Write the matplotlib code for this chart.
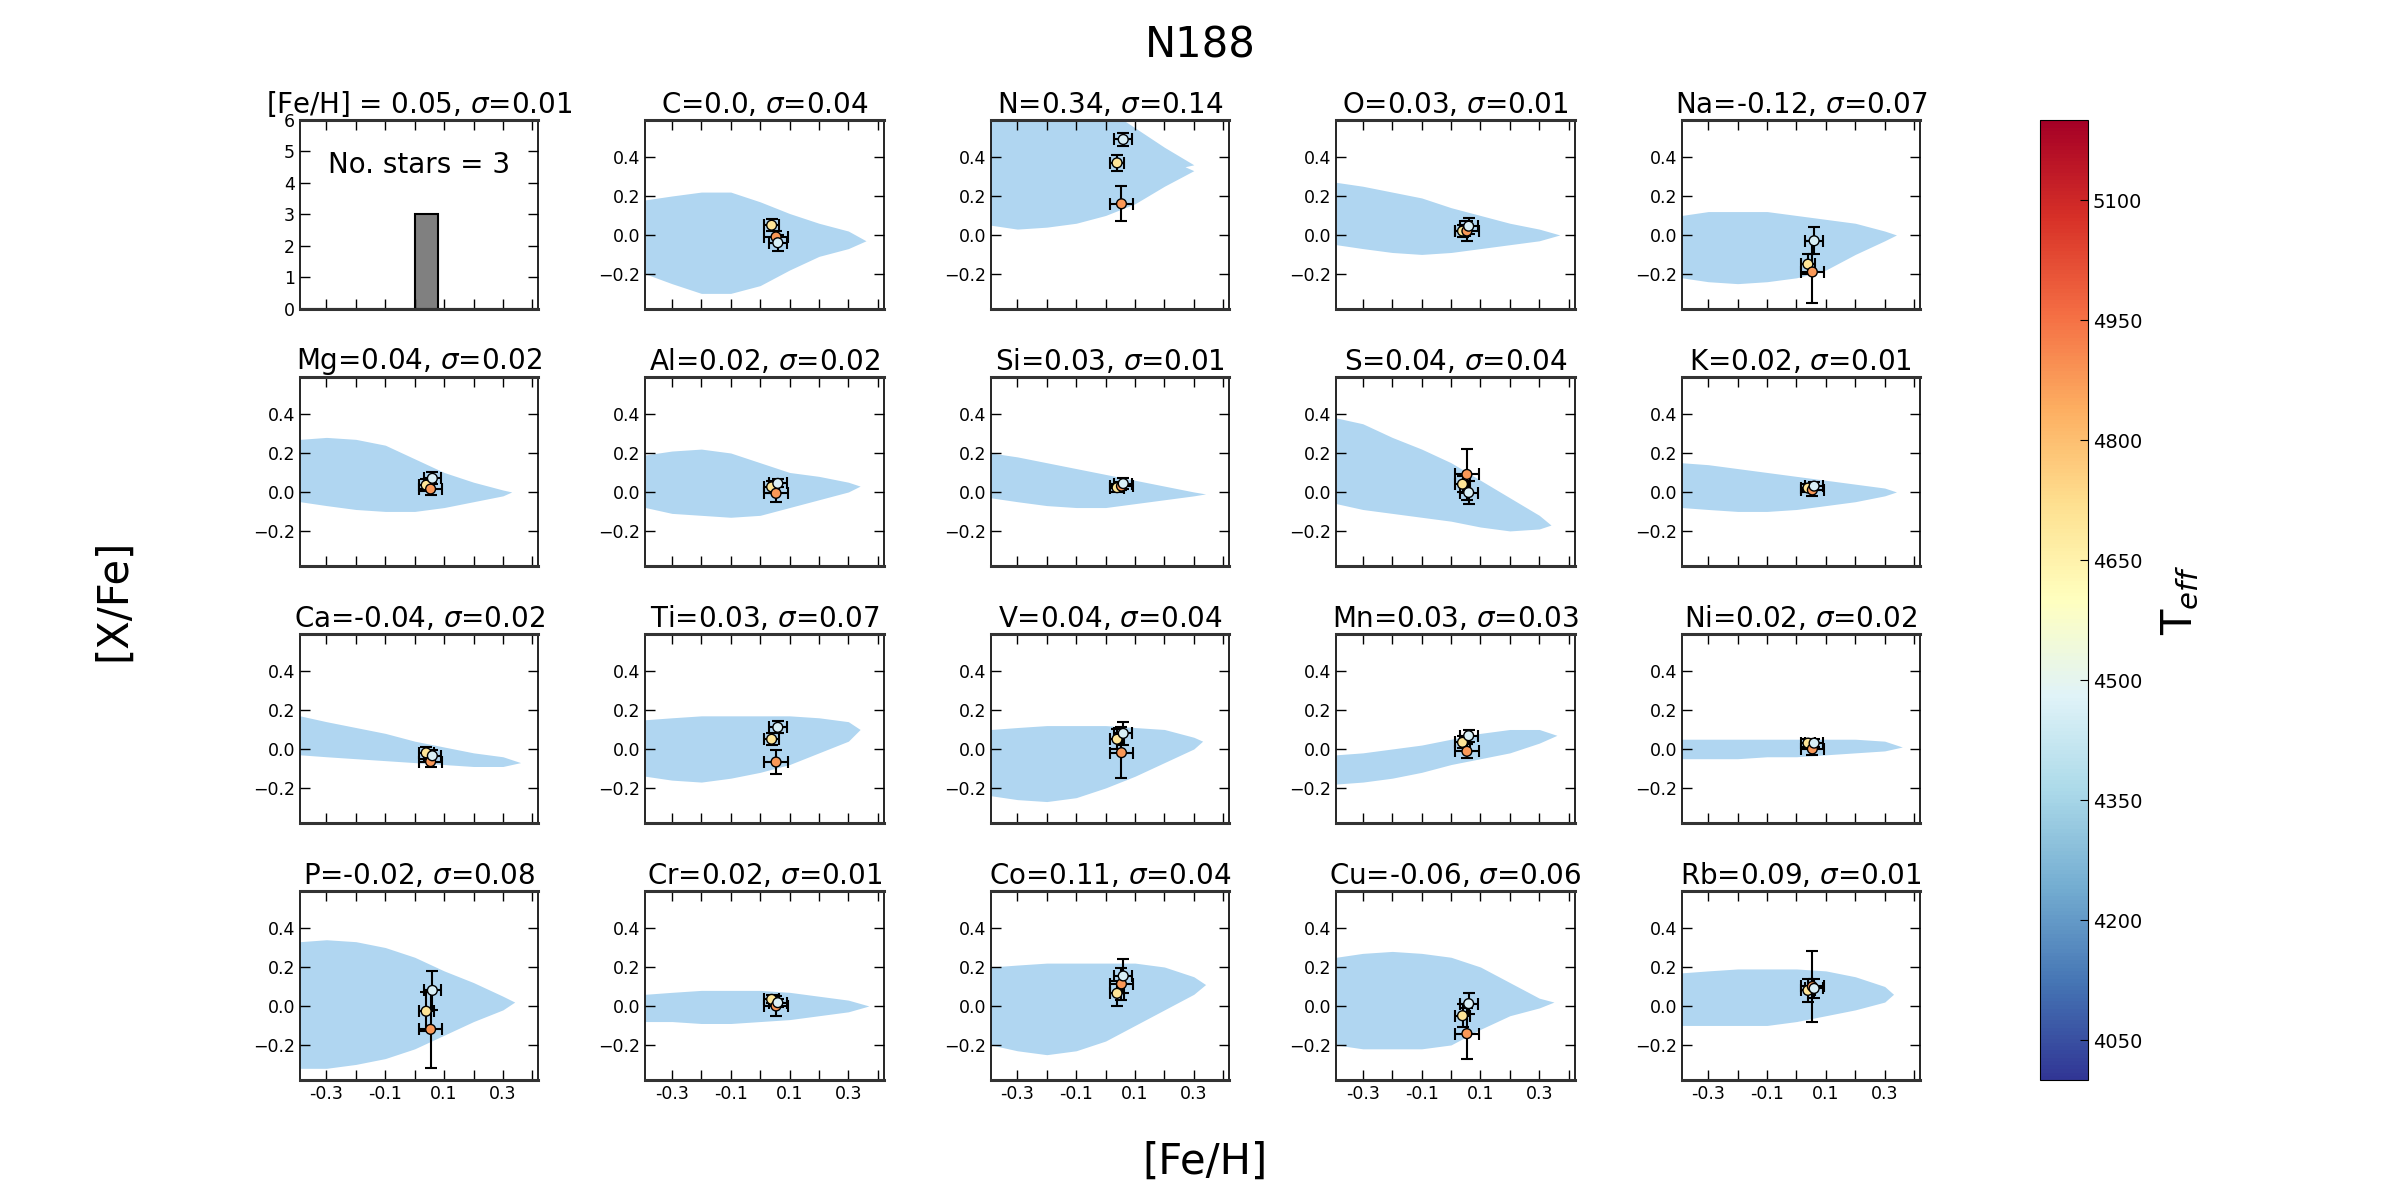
import matplotlib
matplotlib.use('Agg')
import matplotlib.pyplot as plt
import numpy as np

# cluster N188, three member stars (yellow, orange, pale blue in the plot)
feh_stars = [0.039, 0.054, 0.060]
feh_err = [0.025, 0.04, 0.03]
teff_stars = [4700, 4880, 4460]
feh_mean, feh_sig = 0.05, 0.01

elements = ['C', 'N', 'O', 'Na', 'Mg', 'Al', 'Si', 'S', 'K', 'Ca',
            'Ti', 'V', 'Mn', 'Ni', 'P', 'Cr', 'Co', 'Cu', 'Rb']
mean_vals = [0.0, 0.34, 0.03, -0.12, 0.04, 0.02, 0.03, 0.04, 0.02, -0.04,
             0.03, 0.04, 0.03, 0.02, -0.02, 0.02, 0.11, -0.06, 0.09]
sig_vals = [0.04, 0.14, 0.01, 0.07, 0.02, 0.02, 0.01, 0.04, 0.01, 0.02,
            0.07, 0.04, 0.03, 0.02, 0.08, 0.01, 0.04, 0.06, 0.01]

# [X/Fe] of the three stars and their errors
star_y = {
    'C':  [0.05, -0.01, -0.04],
    'N':  [0.37, 0.16, 0.49],
    'O':  [0.02, 0.02, 0.045],
    'Na': [-0.15, -0.19, -0.03],
    'Mg': [0.035, 0.015, 0.07],
    'Al': [0.026, -0.007, 0.044],
    'Si': [0.022, 0.03, 0.043],
    'S':  [0.04, 0.09, -0.003],
    'K':  [0.02, 0.01, 0.03],
    'Ca': [-0.02, -0.065, -0.035],
    'Ti': [0.05, -0.067, 0.111],
    'V':  [0.05, -0.019, 0.08],
    'Mn': [0.034, -0.012, 0.068],
    'Ni': [0.03, 0.0, 0.03],
    'P':  [-0.027, -0.12, 0.08],
    'Cr': [0.034, 0.0, 0.017],
    'Co': [0.065, 0.113, 0.154],
    'Cu': [-0.05, -0.142, 0.012],
    'Rb': [0.08, 0.1, 0.09],
}
star_yerr = {
    'C':  [0.03, 0.03, 0.04],
    'N':  [0.04, 0.09, 0.035],
    'O':  [0.03, 0.05, 0.04],
    'Na': [0.05, 0.16, 0.07],
    'Mg': [0.03, 0.03, 0.03],
    'Al': [0.03, 0.045, 0.02],
    'Si': [0.02, 0.02, 0.03],
    'S':  [0.04, 0.13, 0.06],
    'K':  [0.02, 0.03, 0.02],
    'Ca': [0.03, 0.03, 0.03],
    'Ti': [0.03, 0.06, 0.03],
    'V':  [0.05, 0.13, 0.06],
    'Mn': [0.03, 0.035, 0.03],
    'Ni': [0.02, 0.03, 0.02],
    'P':  [0.1, 0.2, 0.1],
    'Cr': [0.02, 0.05, 0.02],
    'Co': [0.065, 0.08, 0.085],
    'Cu': [0.06, 0.13, 0.055],
    'Rb': [0.06, 0.18, 0.05],
}

# field star cloud, read as an envelope (upper / lower edge) at these [Fe/H]
cloud_x = [-0.39, -0.3, -0.2, -0.1, 0.0, 0.1, 0.2, 0.3]
cloud_hi = {
    'C':  [0.18, 0.2, 0.22, 0.22, 0.17, 0.11, 0.06, 0.02],
    'N':  [0.65, 0.65, 0.65, 0.65, 0.65, 0.55, 0.45, 0.36],
    'O':  [0.27, 0.25, 0.22, 0.19, 0.14, 0.1, 0.06, 0.03],
    'Na': [0.1, 0.12, 0.12, 0.12, 0.1, 0.08, 0.06, 0.02],
    'Mg': [0.27, 0.28, 0.27, 0.24, 0.17, 0.1, 0.05, 0.01],
    'Al': [0.19, 0.21, 0.22, 0.2, 0.15, 0.1, 0.08, 0.05],
    'Si': [0.2, 0.18, 0.15, 0.12, 0.09, 0.06, 0.03, 0.0],
    'S':  [0.38, 0.35, 0.28, 0.22, 0.15, 0.06, -0.03, -0.12],
    'K':  [0.15, 0.14, 0.12, 0.1, 0.08, 0.06, 0.04, 0.02],
    'Ca': [0.17, 0.14, 0.11, 0.08, 0.04, 0.01, -0.02, -0.04],
    'Ti': [0.15, 0.16, 0.17, 0.17, 0.17, 0.17, 0.16, 0.14],
    'V':  [0.1, 0.11, 0.12, 0.12, 0.12, 0.11, 0.1, 0.06],
    'Mn': [-0.03, -0.02, 0.0, 0.02, 0.05, 0.08, 0.1, 0.1],
    'Ni': [0.05, 0.05, 0.05, 0.05, 0.05, 0.05, 0.05, 0.04],
    'P':  [0.33, 0.34, 0.33, 0.3, 0.25, 0.18, 0.12, 0.05],
    'Cr': [0.06, 0.07, 0.08, 0.08, 0.08, 0.07, 0.05, 0.03],
    'Co': [0.2, 0.21, 0.22, 0.22, 0.22, 0.22, 0.2, 0.15],
    'Cu': [0.25, 0.27, 0.28, 0.27, 0.25, 0.2, 0.12, 0.04],
    'Rb': [0.17, 0.18, 0.19, 0.19, 0.19, 0.18, 0.15, 0.1],
}
cloud_lo = {
    'C':  [-0.2, -0.25, -0.3, -0.3, -0.26, -0.18, -0.11, -0.07],
    'N':  [0.05, 0.03, 0.04, 0.06, 0.1, 0.16, 0.25, 0.33],
    'O':  [-0.05, -0.07, -0.09, -0.1, -0.09, -0.07, -0.05, -0.03],
    'Na': [-0.22, -0.24, -0.25, -0.24, -0.22, -0.18, -0.1, -0.03],
    'Mg': [-0.05, -0.07, -0.09, -0.1, -0.1, -0.08, -0.05, -0.02],
    'Al': [-0.08, -0.11, -0.12, -0.13, -0.12, -0.08, -0.04, 0.0],
    'Si': [-0.03, -0.05, -0.07, -0.08, -0.08, -0.06, -0.04, -0.02],
    'S':  [-0.06, -0.09, -0.11, -0.13, -0.15, -0.18, -0.2, -0.19],
    'K':  [-0.08, -0.09, -0.1, -0.1, -0.09, -0.07, -0.05, -0.02],
    'Ca': [-0.03, -0.04, -0.05, -0.06, -0.07, -0.08, -0.09, -0.09],
    'Ti': [-0.14, -0.16, -0.17, -0.15, -0.12, -0.08, -0.02, 0.04],
    'V':  [-0.24, -0.26, -0.27, -0.25, -0.2, -0.14, -0.07, 0.0],
    'Mn': [-0.18, -0.17, -0.15, -0.12, -0.08, -0.05, -0.02, 0.03],
    'Ni': [-0.05, -0.05, -0.05, -0.04, -0.04, -0.03, -0.02, -0.01],
    'P':  [-0.32, -0.32, -0.3, -0.27, -0.22, -0.15, -0.08, -0.02],
    'Cr': [-0.08, -0.08, -0.09, -0.09, -0.08, -0.07, -0.05, -0.03],
    'Co': [-0.2, -0.23, -0.25, -0.23, -0.18, -0.1, -0.02, 0.06],
    'Cu': [-0.2, -0.22, -0.22, -0.22, -0.2, -0.12, -0.05, -0.01],
    'Rb': [-0.1, -0.1, -0.1, -0.1, -0.08, -0.05, -0.02, 0.02],
}
# where each cloud runs out on the metal-rich side
cloud_tip = {
    'C': (0.36, -0.03), 'N': (0.27, 0.35), 'O': (0.37, 0.0), 'Na': (0.34, 0.0),
    'Mg': (0.33, 0.0), 'Al': (0.34, 0.03), 'Si': (0.34, -0.01), 'S': (0.34, -0.17),
    'K': (0.34, 0.0), 'Ca': (0.36, -0.07), 'Ti': (0.34, 0.1), 'V': (0.33, 0.04),
    'Mn': (0.36, 0.07), 'Ni': (0.36, 0.01), 'P': (0.34, 0.02), 'Cr': (0.37, 0.0),
    'Co': (0.34, 0.11), 'Cu': (0.35, 0.02), 'Rb': (0.33, 0.06),
}

cloud_color = '#b0d6f1'
cmap = plt.get_cmap('RdYlBu_r')
norm = plt.Normalize(4000, 5200)


def style_axes(ax):
    ax.tick_params(direction='in', top=True, right=True, length=7, width=1,
                   labelsize=12.5, which='both')
    for side in ['left', 'right']:
        ax.spines[side].set_linewidth(1.2)
    for side in ['top', 'bottom']:
        ax.spines[side].set_linewidth(2.2)
        ax.spines[side].set_color('#333333')


fig, axes = plt.subplots(4, 5, figsize=(24, 12), dpi=100)
fig.subplots_adjust(left=0.125, right=0.8, bottom=0.1, top=0.9, wspace=0.45, hspace=0.36)

# histogram of [Fe/H] of the members
ax0 = axes[0, 0]
ax0.hist(feh_stars, bins=np.arange(-0.4, 0.5, 0.08), color='gray', edgecolor='k', linewidth=1.5)
ax0.set_xlim(-0.39, 0.42)
ax0.set_ylim(0, 6)
ax0.set_xticks(np.arange(-0.3, 0.45, 0.1))
ax0.set_xticklabels([])
ax0.set_yticks(range(7))
ax0.text(0.5, 0.76, 'No. stars = %d' % len(feh_stars), transform=ax0.transAxes,
         ha='center', va='center', fontsize=20)
ax0.set_title('[Fe/H] = %s, $\\sigma$=%s' % (feh_mean, feh_sig), fontsize=20, pad=5)
style_axes(ax0)

for i, el in enumerate(elements):
    ax = axes.flat[i + 1]
    tx, ty = cloud_tip[el]
    ax.fill_between(cloud_x + [tx], cloud_lo[el] + [ty], cloud_hi[el] + [ty],
                    color=cloud_color, linewidth=0, zorder=1)
    ax.errorbar(feh_stars, star_y[el], xerr=feh_err, yerr=star_yerr[el], fmt='none',
                ecolor='k', elinewidth=1.5, capsize=4, capthick=1.5, zorder=2)
    sc = ax.scatter(feh_stars, star_y[el], c=teff_stars, cmap=cmap, norm=norm, s=50,
                    edgecolors='k', linewidths=1, zorder=3)
    ax.set_xlim(-0.39, 0.42)
    ax.set_ylim(-0.38, 0.59)
    ax.set_yticks([-0.2, 0.0, 0.2, 0.4])
    ax.set_xticks([-0.3, -0.1, 0.1, 0.3])
    ax.set_xticks([-0.2, 0.0, 0.2, 0.4], minor=True)
    if i + 1 >= 15:
        ax.set_xticklabels(['-0.3', '-0.1', '0.1', '0.3'])
    else:
        ax.set_xticklabels([])
    ax.set_title('%s=%s, $\\sigma$=%s' % (el, mean_vals[i], sig_vals[i]), fontsize=20, pad=5)
    style_axes(ax)

cax = fig.add_axes([0.85, 0.1, 0.02, 0.8])
cb = fig.colorbar(sc, cax=cax, ticks=np.arange(4050, 5101, 150))
cb.ax.tick_params(direction='in', length=6, labelsize=14)
cb.set_label('T$_{eff}$', fontsize=30, labelpad=12)

fig.suptitle('N188', fontsize=30, y=0.98)
fig.text(0.047, 0.5, '[X/Fe]', rotation=90, fontsize=30, ha='center', va='center')
fig.text(0.502, 0.032, '[Fe/H]', fontsize=30, ha='center', va='center')

fig.savefig('out.png', dpi=100)
